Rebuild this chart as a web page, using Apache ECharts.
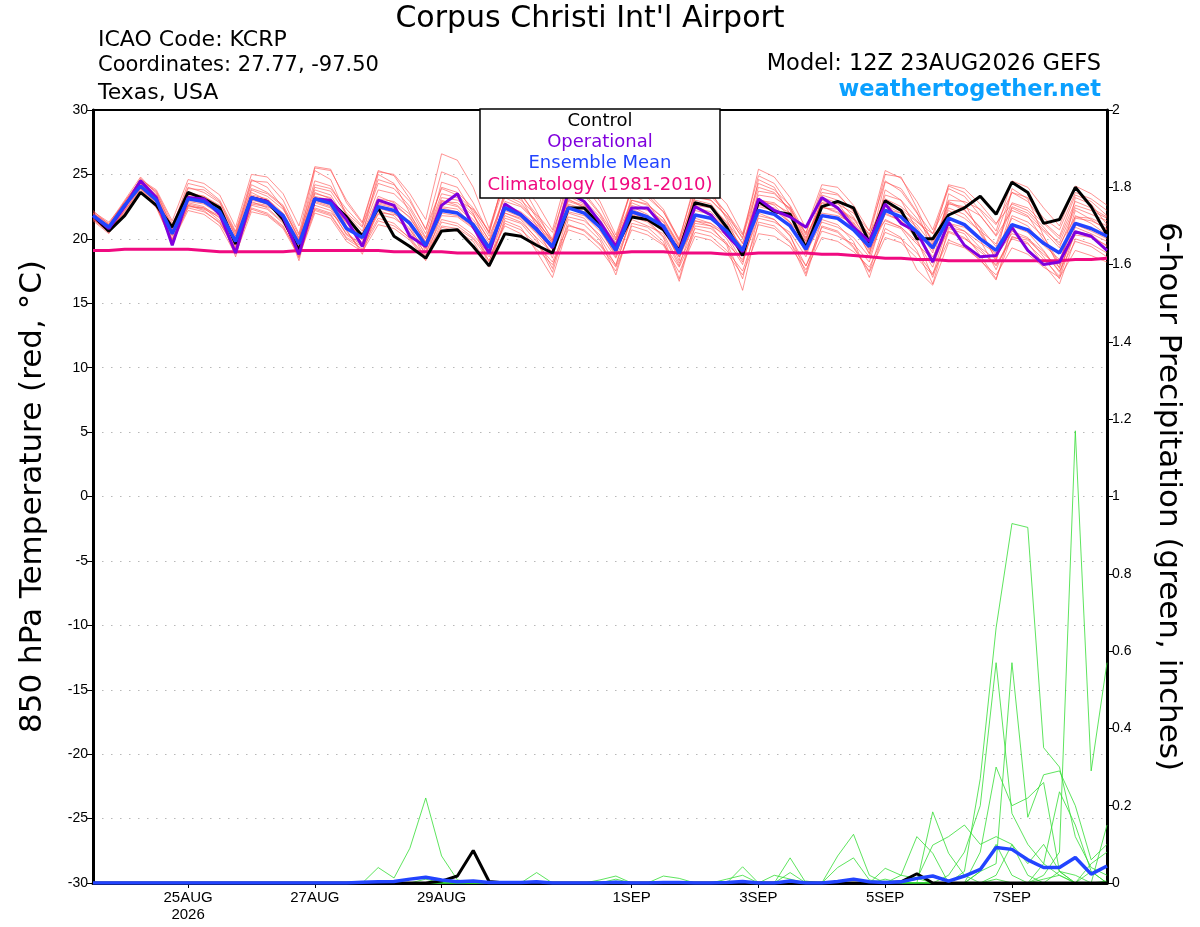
<!DOCTYPE html>
<html>
<head>
<meta charset="utf-8">
<script src="https://cdn.jsdelivr.net/npm/echarts@6/dist/echarts.min.js"></script>
<style>
    html, body { margin: 0; padding: 0; background: #fff; }
    #chart { width: 1200px; height: 927px; }
</style>
</head>
<body>
<div id="chart"></div>
<script>
// 6-hourly steps from 12Z 23AUG2026 to 12Z 8SEP2026 (65 points)
var months = ['JAN', 'FEB', 'MAR', 'APR', 'MAY', 'JUN', 'JUL', 'AUG', 'SEP', 'OCT', 'NOV', 'DEC'];
var times = [];
for (var i = 0; i < 65; i++) {
    var d = new Date(Date.UTC(2026, 7, 23, 12) + i * 6 * 3600 * 1000);
    times.push(d.getUTCDate() + months[d.getUTCMonth()] + ' ' + d.getUTCHours() + 'Z');
}
// labelled ticks: index -> text
var tickLabels = {6: '25AUG\n2026', 14: '27AUG', 22: '29AUG', 34: '1SEP', 42: '3SEP', 50: '5SEP', 58: '7SEP'};

// 850 hPa temperature (C)
var control = [21.8, 20.6, 21.8, 23.6, 22.6, 20.9, 23.6, 23.1, 22.4, 19.6, 23.2, 22.9, 21.5, 19.1, 23.1, 22.9, 21.7, 20.2, 22.4, 20.2, 19.4, 18.5, 20.6, 20.7, 19.4, 17.9, 20.4, 20.2, 19.5, 18.9, 22.4, 22.4, 21.1, 19.3, 21.7, 21.5, 20.7, 19.1, 22.8, 22.5, 20.9, 18.7, 22.9, 22.1, 21.9, 19.3, 22.5, 22.9, 22.4, 19.7, 22.95, 22.2, 20.0, 20.0, 21.85, 22.4, 23.3, 21.9, 24.4, 23.6, 21.2, 21.5, 24.0, 22.5, 20.3];
var operational = [21.8, 20.8, 22.5, 24.5, 23.2, 19.5, 23.2, 23.1, 21.9, 18.9, 23.2, 22.9, 21.7, 18.8, 23.1, 23.0, 21.5, 19.4, 23.0, 22.6, 20.2, 19.4, 22.6, 23.5, 20.9, 18.9, 22.7, 21.9, 20.8, 19.3, 23.6, 22.9, 21.3, 19.4, 22.4, 22.4, 20.9, 19.0, 22.5, 21.85, 20.3, 19.0, 23.1, 22.2, 21.7, 20.9, 23.2, 22.4, 20.9, 19.8, 22.7, 21.2, 20.55, 18.2, 21.3, 19.5, 18.6, 18.7, 20.9, 19.1, 18.0, 18.2, 20.55, 20.2, 19.1];
var ensMean = [21.8, 20.9, 22.6, 24.1, 23.0, 20.4, 23.1, 22.9, 22.1, 19.8, 23.2, 22.8, 21.8, 19.6, 23.1, 22.75, 20.8, 20.1, 22.5, 22.2, 21.2, 19.5, 22.2, 22.0, 21.1, 19.3, 22.4, 21.85, 20.7, 19.4, 22.4, 22.0, 20.9, 19.1, 22.1, 21.7, 21.0, 18.9, 21.85, 21.6, 20.6, 19.1, 22.2, 21.9, 21.0, 19.2, 21.8, 21.6, 20.7, 19.4, 22.2, 21.7, 20.55, 19.3, 21.6, 21.1, 20.0, 19.1, 21.1, 20.7, 19.65, 18.9, 21.2, 20.8, 20.2];
var climatology = [19.1, 19.1, 19.2, 19.2, 19.2, 19.2, 19.2, 19.1, 19.0, 19.0, 19.0, 19.0, 19.0, 19.1, 19.1, 19.1, 19.1, 19.1, 19.1, 19.0, 19.0, 19.0, 19.0, 18.9, 18.9, 18.9, 18.9, 18.9, 18.9, 18.9, 18.9, 18.9, 18.9, 18.9, 19.0, 19.0, 19.0, 18.9, 18.9, 18.9, 18.8, 18.8, 18.9, 18.9, 18.9, 18.9, 18.8, 18.8, 18.7, 18.6, 18.5, 18.5, 18.4, 18.4, 18.3, 18.3, 18.3, 18.3, 18.3, 18.3, 18.3, 18.3, 18.4, 18.4, 18.5];

var tempMembers = [
    [22.0, 21.2, 23.0, 24.8, 23.5, 21.0, 24.0, 23.6, 22.8, 20.5, 24.2, 23.6, 22.6, 20.3, 24.5, 24.1, 22.0, 20.9, 24.3, 23.9, 22.5, 20.4, 24.0, 23.6, 22.4, 20.5, 24.3, 23.4, 21.9, 20.5, 24.1, 23.6, 22.0, 20.1, 23.8, 23.2, 22.1, 20.0, 24.1, 23.5, 22.0, 20.3, 24.3, 23.8, 22.6, 20.4, 23.9, 23.5, 22.1, 20.6, 24.5, 23.7, 22.0, 20.4, 23.9, 23.3, 21.8, 20.3, 23.6, 22.9, 21.3, 20.2, 23.4, 22.9, 21.8],
    [21.5, 20.5, 22.0, 23.6, 22.5, 19.8, 22.4, 22.1, 21.3, 19.0, 22.4, 22.0, 21.0, 18.7, 22.2, 21.8, 20.0, 19.2, 21.4, 21.0, 20.1, 18.6, 21.0, 20.8, 20.0, 18.3, 21.2, 20.7, 19.6, 18.2, 21.1, 20.6, 19.5, 17.8, 20.7, 20.3, 19.5, 17.4, 20.2, 19.9, 18.9, 17.2, 20.4, 20.2, 19.4, 17.6, 20.1, 19.8, 19.0, 17.8, 20.5, 20.0, 18.9, 17.3, 19.9, 19.4, 18.3, 17.2, 19.3, 18.8, 17.8, 17.0, 19.1, 18.7, 18.2],
    [21.9, 21.0, 22.9, 24.6, 23.4, 20.8, 23.9, 23.8, 22.9, 20.2, 24.5, 24.4, 23.0, 20.4, 25.6, 25.4, 22.8, 21.2, 25.2, 25.0, 23.5, 21.5, 26.6, 26.1, 24.0, 20.8, 24.6, 23.6, 21.6, 19.6, 23.1, 22.4, 21.0, 19.3, 22.5, 21.9, 20.7, 18.6, 21.4, 21.2, 20.4, 19.0, 22.8, 22.7, 22.0, 20.5, 23.6, 23.4, 22.2, 20.1, 25.0, 24.8, 22.4, 19.6, 22.8, 22.2, 20.9, 19.4, 22.5, 22.0, 20.7, 19.7, 22.6, 22.2, 21.6],
    [21.6, 20.7, 22.4, 24.3, 23.1, 20.2, 22.8, 22.5, 21.6, 19.4, 22.9, 22.4, 21.3, 19.0, 22.6, 22.2, 20.4, 19.6, 21.9, 21.6, 20.7, 19.2, 21.8, 21.7, 20.8, 19.1, 22.9, 22.5, 21.3, 19.9, 23.0, 22.6, 21.5, 19.6, 22.8, 22.3, 21.4, 19.5, 22.6, 22.4, 21.3, 19.7, 23.4, 23.2, 22.4, 20.3, 22.5, 22.0, 21.0, 19.1, 21.5, 20.9, 19.6, 18.4, 20.6, 20.1, 19.0, 18.0, 20.1, 19.9, 18.8, 17.8, 20.3, 20.1, 19.5],
    [21.7, 20.6, 22.3, 24.0, 22.7, 19.9, 22.9, 22.7, 21.9, 18.9, 23.0, 22.7, 21.5, 18.5, 23.5, 23.2, 20.6, 19.0, 22.8, 22.5, 21.0, 18.7, 22.5, 22.3, 21.0, 18.2, 22.0, 21.5, 20.0, 17.7, 22.0, 21.6, 20.1, 17.9, 21.7, 21.3, 20.1, 16.9, 21.4, 21.0, 19.5, 16.0, 21.3, 21.0, 19.8, 17.1, 21.0, 20.6, 19.4, 17.5, 21.2, 20.8, 19.1, 16.5, 20.8, 20.4, 18.7, 16.9, 20.2, 19.7, 18.0, 16.5, 20.0, 19.6, 18.9],
    [21.8, 21.0, 22.7, 24.4, 23.3, 20.6, 23.4, 23.2, 22.3, 20.0, 23.6, 23.0, 21.9, 19.8, 23.8, 23.4, 21.4, 20.4, 23.3, 22.8, 21.6, 19.8, 23.0, 22.6, 21.5, 19.7, 23.4, 22.8, 21.3, 19.3, 22.7, 22.3, 21.2, 19.4, 23.0, 22.7, 21.6, 19.6, 23.6, 23.3, 22.0, 20.0, 25.4, 24.8, 23.2, 20.8, 24.2, 24.0, 22.6, 20.6, 25.3, 24.7, 22.9, 20.7, 24.1, 23.6, 22.2, 20.6, 24.5, 24.0, 22.4, 21.0, 24.1, 23.5, 22.6],
    [22.1, 21.3, 22.8, 24.2, 22.9, 20.3, 22.6, 22.3, 21.7, 19.6, 22.7, 22.5, 21.9, 19.3, 22.4, 22.0, 20.9, 19.9, 22.0, 21.9, 21.4, 19.0, 22.9, 22.8, 21.8, 19.9, 22.0, 21.6, 20.4, 18.9, 21.7, 21.4, 20.3, 18.5, 21.5, 21.0, 20.4, 18.1, 20.8, 20.5, 19.6, 18.4, 21.6, 21.3, 20.5, 18.6, 22.4, 22.3, 21.5, 19.9, 21.4, 20.9, 19.8, 17.8, 21.2, 20.6, 19.3, 18.4, 21.8, 21.3, 20.2, 18.1, 22.2, 21.5, 20.7],
    [21.4, 20.4, 22.6, 24.7, 23.6, 20.9, 24.3, 24.0, 23.0, 20.6, 24.6, 24.0, 22.4, 19.9, 25.3, 24.6, 21.8, 20.3, 25.0, 24.3, 22.0, 19.6, 24.4, 24.0, 22.0, 19.0, 23.8, 23.2, 21.0, 18.5, 23.3, 22.7, 20.8, 18.6, 23.4, 22.8, 21.0, 18.3, 24.0, 23.7, 21.5, 18.9, 24.6, 24.0, 21.9, 19.0, 23.2, 22.8, 21.1, 18.8, 23.8, 23.0, 20.7, 18.1, 23.5, 22.8, 20.4, 18.5, 23.9, 23.1, 20.2, 17.7, 23.2, 22.7, 21.1],
    [21.9, 20.8, 22.5, 23.9, 22.8, 20.0, 22.7, 22.4, 21.4, 19.2, 22.6, 22.3, 21.2, 19.0, 22.8, 22.4, 20.3, 19.5, 22.2, 21.8, 20.5, 18.9, 21.5, 21.2, 20.3, 18.8, 21.8, 21.3, 20.1, 18.9, 22.1, 21.8, 20.6, 18.8, 21.9, 21.4, 20.6, 18.6, 21.2, 21.0, 20.3, 18.2, 22.0, 21.5, 20.2, 17.9, 20.6, 20.2, 19.6, 18.2, 22.3, 22.0, 21.1, 19.5, 22.4, 21.9, 20.5, 18.7, 20.4, 20.0, 19.0, 17.5, 19.8, 19.4, 18.6],
    [22.2, 21.1, 22.9, 24.5, 23.7, 21.2, 23.6, 23.3, 22.5, 20.2, 23.8, 23.3, 22.3, 20.1, 24.0, 23.7, 21.9, 20.6, 23.8, 23.5, 22.3, 20.1, 23.5, 23.2, 21.9, 19.9, 23.6, 23.0, 21.8, 20.0, 24.8, 24.2, 22.5, 20.0, 23.0, 22.6, 21.6, 19.4, 23.0, 22.7, 21.2, 19.2, 23.7, 23.5, 22.3, 20.1, 22.8, 22.7, 22.0, 20.3, 23.1, 22.5, 21.4, 20.0, 24.2, 23.9, 22.7, 21.2, 22.7, 22.2, 20.9, 19.5, 21.7, 21.6, 21.0],
    [21.6, 20.5, 22.2, 23.8, 22.6, 19.6, 22.5, 22.4, 21.8, 18.6, 22.8, 22.6, 21.6, 18.3, 22.9, 22.5, 20.7, 18.8, 22.4, 22.0, 20.8, 18.4, 22.0, 21.8, 20.9, 17.9, 21.6, 21.2, 19.8, 17.4, 21.5, 21.1, 19.9, 17.2, 21.2, 20.9, 19.8, 16.7, 21.0, 20.8, 19.7, 16.9, 21.8, 21.5, 20.3, 17.3, 21.5, 21.1, 19.8, 17.0, 20.8, 20.1, 17.6, 16.4, 19.7, 19.3, 18.4, 16.8, 21.0, 20.5, 19.1, 17.4, 20.9, 20.4, 19.8],
    [21.7, 20.9, 22.6, 24.2, 23.2, 20.7, 23.2, 22.9, 22.2, 19.9, 23.3, 23.0, 21.9, 19.4, 23.0, 22.6, 21.3, 20.0, 22.7, 22.4, 21.3, 19.3, 22.4, 22.1, 20.9, 19.0, 22.2, 21.7, 20.5, 19.2, 22.6, 22.1, 21.0, 19.0, 22.3, 21.8, 20.8, 18.8, 22.2, 21.9, 20.8, 19.4, 22.5, 22.2, 21.3, 19.8, 22.0, 21.8, 21.2, 19.2, 22.6, 22.3, 21.3, 20.4, 23.0, 22.9, 22.3, 21.1, 23.6, 23.2, 21.6, 20.7, 23.6, 23.1, 22.2],
    [22.0, 21.1, 22.8, 24.6, 23.8, 21.4, 24.6, 24.3, 23.4, 20.9, 25.0, 24.8, 23.5, 21.0, 25.5, 25.3, 23.0, 21.3, 25.3, 24.9, 23.1, 20.7, 25.2, 24.7, 22.8, 20.4, 25.0, 24.3, 22.1, 19.8, 23.9, 23.4, 21.9, 19.7, 24.1, 23.6, 22.3, 19.9, 24.4, 24.0, 22.7, 20.4, 24.9, 24.3, 22.5, 19.8, 23.4, 23.0, 21.7, 19.4, 24.4, 23.9, 22.1, 19.1, 22.9, 22.3, 20.8, 18.3, 22.4, 21.8, 19.9, 18.0, 21.8, 21.2, 20.3],
    [21.5, 20.6, 22.1, 23.7, 22.4, 19.7, 22.2, 21.9, 21.0, 18.8, 22.1, 21.8, 20.8, 18.6, 22.0, 21.6, 19.8, 19.0, 21.1, 20.8, 19.9, 18.3, 20.9, 20.6, 19.8, 17.8, 21.4, 20.9, 19.0, 17.0, 21.0, 20.7, 19.6, 18.0, 21.8, 21.4, 20.2, 17.9, 21.6, 21.2, 20.0, 18.0, 22.6, 22.4, 21.2, 18.9, 21.3, 20.9, 20.1, 18.6, 22.0, 21.4, 20.0, 17.0, 20.5, 20.0, 19.2, 17.9, 20.0, 19.6, 18.4, 17.1, 21.6, 21.4, 20.8],
    [21.9, 21.0, 22.7, 24.0, 23.1, 20.8, 23.5, 23.3, 22.6, 20.4, 23.9, 23.5, 22.5, 20.0, 24.2, 23.9, 22.3, 21.0, 24.6, 24.2, 22.9, 20.8, 23.9, 23.4, 22.2, 20.2, 23.2, 22.6, 21.4, 19.8, 23.5, 23.0, 21.7, 19.9, 22.6, 22.2, 21.3, 19.3, 23.2, 23.0, 21.8, 20.1, 24.0, 23.6, 22.2, 19.6, 23.0, 22.5, 21.3, 19.6, 23.4, 23.0, 21.6, 19.8, 22.2, 21.6, 20.6, 19.6, 22.8, 22.4, 21.2, 20.0, 22.9, 22.4, 21.7],
    [21.6, 20.6, 22.2, 23.9, 22.6, 19.9, 22.6, 22.2, 21.2, 19.3, 22.3, 21.9, 20.9, 18.9, 22.3, 21.9, 20.1, 19.4, 21.6, 21.2, 20.0, 18.5, 21.3, 21.0, 20.1, 18.6, 21.0, 20.4, 19.2, 18.0, 20.7, 20.3, 19.2, 17.5, 21.0, 20.6, 19.6, 17.8, 20.5, 20.2, 19.1, 17.5, 21.1, 20.8, 19.7, 17.9, 20.9, 20.5, 19.3, 17.4, 20.1, 19.7, 18.5, 17.2, 21.2, 20.9, 19.9, 17.6, 20.6, 20.1, 18.6, 16.9, 20.6, 20.3, 19.4],
    [21.8, 20.8, 22.4, 24.3, 23.3, 20.5, 23.0, 22.8, 22.0, 19.7, 23.1, 22.7, 21.7, 19.5, 23.3, 23.0, 21.2, 20.2, 23.1, 22.9, 21.9, 20.0, 23.2, 23.0, 22.3, 20.6, 24.9, 24.4, 22.8, 20.7, 25.2, 24.6, 22.9, 20.3, 23.9, 23.4, 22.1, 19.8, 23.3, 23.0, 21.7, 19.6, 23.1, 22.6, 21.3, 19.1, 22.5, 22.1, 20.9, 18.9, 21.9, 21.4, 20.3, 18.6, 20.9, 20.6, 19.7, 18.9, 21.6, 21.0, 19.5, 18.4, 21.1, 20.6, 20.0],
    [22.0, 21.0, 22.6, 24.4, 23.2, 20.6, 23.3, 23.0, 22.0, 19.5, 23.4, 23.1, 22.0, 19.8, 23.6, 23.1, 21.0, 19.7, 22.9, 22.6, 21.7, 19.7, 22.8, 22.5, 21.3, 19.5, 22.6, 22.1, 21.1, 19.7, 22.9, 22.5, 21.1, 18.9, 22.0, 21.5, 20.9, 19.2, 22.4, 22.1, 20.8, 18.7, 23.0, 22.8, 21.8, 20.0, 22.8, 22.4, 21.6, 20.4, 22.6, 22.0, 20.9, 18.9, 22.7, 22.5, 21.8, 20.2, 22.2, 21.7, 20.6, 19.3, 22.4, 21.9, 21.4]
];

// 6-hour precipitation (inches)
var precipControl = [0, 0, 0, 0, 0, 0, 0, 0, 0, 0, 0, 0, 0, 0, 0, 0, 0, 0, 0, 0, 0, 0, 0.005, 0.018, 0.084, 0.004, 0, 0, 0, 0, 0, 0, 0, 0, 0, 0, 0, 0, 0, 0, 0, 0, 0, 0, 0, 0, 0, 0, 0, 0, 0, 0.003, 0.024, 0, 0, 0, 0, 0, 0, 0, 0, 0, 0, 0, 0];
var precipMean = [0, 0, 0, 0, 0, 0, 0, 0, 0, 0, 0, 0, 0, 0, 0, 0, 0, 0.002, 0.003, 0.004, 0.01, 0.015, 0.008, 0.003, 0.005, 0.001, 0.001, 0.001, 0.003, 0, 0, 0, 0, 0.002, 0, 0, 0.001, 0.001, 0, 0, 0.001, 0.004, 0, 0, 0.005, 0, 0, 0.004, 0.01, 0.003, 0.001, 0.003, 0.012, 0.018, 0.005, 0.018, 0.035, 0.092, 0.087, 0.06, 0.04, 0.04, 0.066, 0.023, 0.044];
var precipMembers = [
    [0, 0, 0, 0, 0, 0, 0, 0, 0, 0, 0, 0, 0, 0, 0, 0, 0, 0, 0.04, 0.013, 0.09, 0.22, 0.07, 0.008, 0, 0, 0, 0, 0, 0, 0, 0, 0, 0, 0, 0, 0, 0, 0, 0, 0, 0, 0, 0, 0, 0, 0, 0, 0, 0, 0, 0, 0, 0, 0, 0.03, 0.27, 0.66, 0.93, 0.92, 0.35, 0.30, 0.12, 0.04, 0.02],
    [0, 0, 0, 0, 0, 0, 0, 0, 0, 0, 0, 0, 0, 0, 0, 0, 0, 0, 0, 0, 0, 0.01, 0, 0, 0, 0, 0, 0, 0.027, 0, 0, 0, 0.008, 0.018, 0, 0, 0, 0, 0, 0, 0, 0.042, 0, 0, 0.065, 0, 0, 0.07, 0.126, 0.02, 0, 0, 0, 0, 0.02, 0.08, 0.2, 0.57, 0.18, 0.1, 0.05, 0.02, 0, 0.03, 0],
    [0, 0, 0, 0, 0, 0, 0, 0, 0, 0, 0, 0, 0, 0, 0, 0, 0, 0, 0, 0, 0, 0, 0.005, 0, 0, 0, 0, 0, 0, 0, 0, 0, 0, 0, 0, 0, 0.018, 0.012, 0, 0, 0.01, 0.02, 0, 0, 0.027, 0, 0, 0.04, 0.065, 0.008, 0, 0, 0, 0, 0, 0, 0.03, 0.05, 0.57, 0.17, 0.28, 0.29, 0.2, 0.06, 0.1],
    [0, 0, 0, 0, 0, 0, 0, 0, 0, 0, 0, 0, 0, 0, 0, 0, 0, 0, 0, 0, 0, 0, 0, 0, 0, 0, 0, 0, 0, 0, 0, 0, 0, 0.01, 0, 0, 0, 0, 0, 0, 0, 0, 0, 0, 0, 0, 0, 0, 0.01, 0, 0.038, 0.02, 0.012, 0, 0, 0, 0, 0.01, 0, 0, 0.02, 0.08, 1.17, 0.29, 0.57],
    [0, 0, 0, 0, 0, 0, 0, 0, 0, 0, 0, 0, 0, 0, 0, 0, 0, 0, 0, 0, 0, 0, 0, 0, 0, 0, 0, 0, 0, 0, 0, 0, 0, 0, 0, 0, 0, 0, 0, 0, 0, 0, 0, 0.02, 0.01, 0, 0, 0, 0, 0, 0, 0.02, 0.12, 0.077, 0, 0, 0.03, 0.1, 0.02, 0, 0.05, 0.236, 0.15, 0.03, 0],
    [0, 0, 0, 0, 0, 0, 0, 0, 0, 0, 0, 0, 0, 0, 0, 0, 0, 0, 0, 0, 0, 0, 0, 0, 0, 0, 0, 0, 0, 0, 0, 0, 0, 0.005, 0, 0, 0, 0, 0, 0, 0, 0, 0, 0, 0, 0, 0, 0, 0, 0, 0, 0, 0, 0.184, 0.077, 0.02, 0, 0.02, 0.1, 0.05, 0.1, 0.03, 0.02, 0, 0.15],
    [0, 0, 0, 0, 0, 0, 0, 0, 0, 0, 0, 0, 0, 0, 0, 0, 0, 0, 0, 0, 0, 0, 0, 0, 0, 0, 0, 0, 0, 0, 0, 0, 0, 0, 0, 0, 0, 0, 0, 0, 0, 0, 0, 0, 0, 0, 0, 0, 0, 0, 0, 0, 0.01, 0.098, 0.12, 0.15, 0.1, 0.12, 0.1, 0.02, 0, 0.03, 0, 0.05, 0.08],
    [0, 0, 0, 0, 0, 0, 0, 0, 0, 0, 0, 0, 0, 0, 0, 0, 0, 0, 0, 0, 0, 0, 0, 0, 0, 0, 0, 0, 0, 0, 0, 0, 0, 0, 0, 0, 0, 0, 0, 0, 0, 0, 0, 0, 0, 0.005, 0, 0, 0, 0, 0.005, 0, 0, 0, 0, 0, 0.08, 0.3, 0.2, 0.22, 0.26, 0.03, 0, 0, 0],
    [0, 0, 0, 0, 0, 0, 0, 0, 0, 0, 0, 0, 0, 0, 0, 0, 0, 0, 0, 0, 0, 0, 0, 0, 0, 0, 0, 0, 0, 0, 0, 0, 0, 0, 0, 0, 0, 0, 0, 0, 0, 0, 0, 0, 0, 0, 0, 0, 0, 0, 0, 0, 0, 0, 0, 0, 0, 0, 0, 0, 0.01, 0.02, 0, 0, 0.005],
    [0, 0, 0, 0, 0, 0, 0, 0, 0, 0, 0, 0, 0, 0, 0, 0, 0, 0, 0, 0, 0, 0, 0, 0, 0, 0, 0, 0, 0, 0, 0, 0, 0, 0, 0, 0, 0, 0, 0, 0, 0, 0, 0, 0, 0, 0, 0, 0, 0, 0, 0.01, 0, 0, 0, 0, 0, 0, 0, 0, 0, 0, 0, 0, 0, 0]
];

var FONT = 'Liberation Sans, Arial, Helvetica, sans-serif';
var WIDE = '"DejaVu Sans", Verdana, sans-serif';

function lineSeries(name, data, axis, color, width, z) {
    return {
        name: name,
        type: 'line',
        data: data,
        yAxisIndex: axis,
        symbol: 'none',
        silent: true,
        z: z,
        lineStyle: { color: color, width: width }
    };
}

var series = [];
tempMembers.forEach(function (m, k) {
    series.push(lineSeries('t' + k, m, 0, 'rgba(255,75,75,0.75)', 0.8, 2));
});
precipMembers.forEach(function (m, k) {
    series.push(lineSeries('p' + k, m, 1, '#35dd35', 0.8, 3));
});
series.push(lineSeries('Climatology (1981-2010)', climatology, 0, '#f00a80', 3, 4));
series.push(lineSeries('Control', control, 0, '#000000', 3, 5));
series.push(lineSeries('Control precip', precipControl, 1, '#000000', 3, 5));
series.push(lineSeries('Operational', operational, 0, '#8000dd', 3, 6));
series.push(lineSeries('Ensemble Mean', ensMean, 0, '#2244ff', 3.5, 7));
series.push(lineSeries('Ensemble Mean precip', precipMean, 1, '#2244ff', 3.5, 7));

function showTick(index) {
    return tickLabels[index] !== undefined;
}

function label(text, x, y, size, color, align, weight) {
    return {
        type: 'text', x: x, y: y, z: 101,
        style: {
            text: text,
            font: (weight || 'normal') + ' ' + size + 'px ' + WIDE,
            fill: color,
            textAlign: align,
            textVerticalAlign: 'middle'
        }
    };
}

var myChart = echarts.init(document.getElementById('chart'));
var option = {
    animation: false,
    backgroundColor: '#fff',
    textStyle: { fontFamily: FONT, color: '#000' },
    grid: {
        left: 93, right: 93, top: 110, bottom: 44,
        show: true, borderColor: '#000', borderWidth: 2, backgroundColor: 'transparent'
    },
    xAxis: {
        type: 'category',
        data: times,
        boundaryGap: false,
        axisLine: { onZero: false, lineStyle: { color: '#000', width: 3 } },
        axisTick: { interval: showTick, length: 5, lineStyle: { color: '#000', width: 1 } },
        axisLabel: {
            interval: showTick,
            formatter: function (v, idx) { return tickLabels[idx] || ''; },
            fontSize: 15, lineHeight: 17, color: '#000', margin: 6, fontFamily: FONT
        },
        splitLine: { show: false }
    },
    yAxis: [{
        type: 'value',
        min: -30, max: 30, interval: 5,
        position: 'left',
        name: '850 hPa Temperature (red, \u00B0C)',
        nameLocation: 'middle',
        nameRotate: 90,
        nameGap: 45,
        nameTextStyle: { fontSize: 31, color: '#000', fontFamily: WIDE },
        axisLine: { show: true, lineStyle: { color: '#000', width: 3 } },
        axisTick: { show: true, length: 6, lineStyle: { color: '#000', width: 1 } },
        axisLabel: { fontSize: 14, color: '#000', margin: 5, fontFamily: FONT },
        splitLine: {
            show: true, showMinLine: false, showMaxLine: false,
            lineStyle: { color: '#b8b8b8', width: 1.2, type: [1.5, 7.5] }
        }
    }, {
        type: 'value',
        min: 0, max: 2, interval: 0.2,
        position: 'right',
        name: '6-hour Precipitation (green, inches)',
        nameLocation: 'middle',
        nameRotate: -90,
        nameGap: 46,
        nameTextStyle: { fontSize: 31, color: '#000', fontFamily: WIDE },
        axisLine: { show: true, lineStyle: { color: '#000', width: 3 } },
        axisTick: { show: true, length: 6, lineStyle: { color: '#000', width: 1 } },
        axisLabel: { fontSize: 14, color: '#000', margin: 5, fontFamily: FONT },
        splitLine: { show: false }
    }],
    graphic: [
        label("Corpus Christi Int'l Airport", 590, 19, 30, '#000', 'center'),
        label('ICAO Code: KCRP', 98, 40, 22, '#000', 'left'),
        label('Coordinates: 27.77, -97.50', 98, 66, 21, '#000', 'left'),
        label('Texas, USA', 98, 93, 22, '#000', 'left'),
        label('Model: 12Z 23AUG2026 GEFS', 1101, 64, 22.5, '#000', 'right'),
        label('weathertogether.net', 1101, 90, 22.5, '#0aa0ff', 'right', 'bold'),
        { type: 'rect', z: 100,
          shape: { x: 480, y: 109, width: 240, height: 89 },
          style: { fill: '#fff', stroke: '#000', lineWidth: 1.5 } },
        label('Control', 600, 121, 18, '#000', 'center'),
        label('Operational', 600, 142, 18, '#8000dd', 'center'),
        label('Ensemble Mean', 600, 163, 18, '#2244ff', 'center'),
        label('Climatology (1981-2010)', 600, 185, 18, '#f00a80', 'center')
    ],
    series: series
};
myChart.setOption(option);
</script>
</body>
</html>
